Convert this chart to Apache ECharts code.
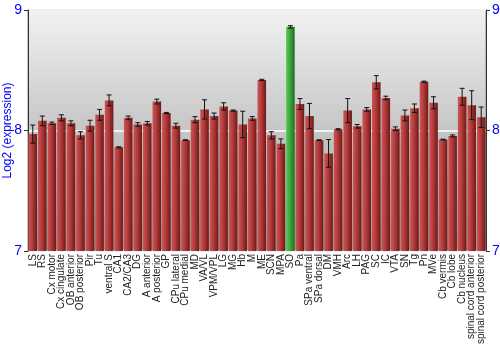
<!DOCTYPE html>
<html><head><meta charset="utf-8">
<script src="https://cdn.jsdelivr.net/npm/echarts@6/dist/echarts.min.js"></script>
<style>html,body{margin:0;padding:0;background:#fff}#c{width:500px;height:350px}</style>
</head><body><div id="c"></div>
<script>
const categories = ["LS","RS","Cx motor","Cx cingulate","OB anterior","OB posterior","Pir","Tu","ventral S","CA1","CA2/CA3","DG","A anterior","A posterior","GP","CPu lateral","CPu medial","MD","VA/VL","VPM/VPL","LG","MG","Hb","M","ME","SCN","MPA","SO","Pa","SPa ventral","SPa dorsal","DM","VMH","Arc","LH","PAG","SC","IC","VTA","SN","Tg","Pn","MVe","Cb vermis","Cb lobe","Cb nucleus","spinal cord anterior","spinal cord posterior"];
const values = [7.97,8.08,8.06,8.105,8.06,7.96,8.04,8.13,8.25,7.86,8.105,8.05,8.06,8.24,8.145,8.04,7.92,8.09,8.175,8.12,8.2,8.165,8.05,8.1,8.42,7.96,7.89,8.86,8.22,8.12,7.92,7.81,8.01,8.165,8.035,8.175,8.4,8.27,8.015,8.125,8.185,8.405,8.23,7.925,7.955,8.28,8.21,8.11];
const errors = [0.075,0.04,0.01,0.025,0.02,0.03,0.045,0.045,0.045,0.005,0.015,0.015,0.015,0.02,0.005,0.02,0.003,0.025,0.08,0.025,0.03,0.005,0.11,0.015,0.005,0.03,0.04,0.01,0.045,0.105,0.003,0.115,0.005,0.1,0.015,0.015,0.055,0.015,0.015,0.045,0.035,0.005,0.05,0.003,0.008,0.07,0.12,0.085];
const highlight = "SO";
const yTicks = [7, 8, 9];

const G = echarts.graphic.LinearGradient;
const redFill = new G(0,0,1,0,[{offset:0,color:'#cc5555'},{offset:0.45,color:'#b23a3a'},{offset:1,color:'#6e1818'}]);
const greenFill = new G(0,0,1,0,[{offset:0,color:'#5cc85c'},{offset:0.45,color:'#3aa83a'},{offset:1,color:'#1d6e1d'}]);

const barData = values.map((v,i)=>({value:v, itemStyle:{color: categories[i]===highlight ? greenFill : redFill}}));
const errData = values.map((v,i)=>[i, v-errors[i], v+errors[i]]);

const chart = echarts.init(document.getElementById('c'), null, {renderer:'canvas'});
const axisLabelStyle = {color:'#0000ff', fontSize:14, fontFamily:'Liberation Sans, Arial, sans-serif'};
chart.setOption({
  animation:false,
  grid:{left:28, right:14, top:10, bottom:99, outerBoundsMode:'none', containLabel:false,
        show:true, borderColor:'#888', borderWidth:1,
        backgroundColor:new G(0,0,0,1,[{offset:0,color:'#f2f2f2'},{offset:1,color:'#9a9a9a'}])},
  xAxis:{type:'category', data:categories,
    axisLine:{show:false}, axisTick:{show:false},
    axisLabel:{interval:0, rotate:90, fontSize:10, color:'#222', margin:3, fontFamily:'Liberation Sans, Arial, sans-serif'}},
  yAxis:[
    {type:'value', min:yTicks[0], max:yTicks[yTicks.length-1], interval:1,
     name:'Log2 (expression)', nameLocation:'middle', nameGap:14, nameRotate:90, nameMoveOverlap:false,
     nameTextStyle:{color:'#0000ff', fontSize:12, fontFamily:'Liberation Sans, Arial, sans-serif'},
     axisLine:{show:true, lineStyle:{color:'#333'}}, axisTick:{show:true, length:4, lineStyle:{color:'#333'}},
     axisLabel:Object.assign({margin:6}, axisLabelStyle),
     splitLine:{show:true, lineStyle:{color:'#ffffff', width:1.5}}},
    {type:'value', position:'right', min:yTicks[0], max:yTicks[yTicks.length-1], interval:1,
     axisLine:{show:true, lineStyle:{color:'#333'}}, axisTick:{show:true, length:4, lineStyle:{color:'#333'}},
     axisLabel:Object.assign({margin:6}, axisLabelStyle),
     splitLine:{show:false}}
  ],
  series:[
    {type:'bar', data:barData, barWidth:'90%', barGap:'-100%', z:2},
    {type:'custom', data:errData, z:3,
     renderItem:function(params, api){
       const x = api.value(0);
       const lo = api.coord([x, api.value(1)]);
       const hi = api.coord([x, api.value(2)]);
       const hw = 2.5;
       const st = {stroke:'#111', lineWidth:1};
       return {type:'group', children:[
         {type:'line', shape:{x1:lo[0],y1:lo[1],x2:hi[0],y2:hi[1]}, style:st},
         {type:'line', shape:{x1:lo[0]-hw,y1:lo[1],x2:lo[0]+hw,y2:lo[1]}, style:st},
         {type:'line', shape:{x1:hi[0]-hw,y1:hi[1],x2:hi[0]+hw,y2:hi[1]}, style:st}
       ]};
     }}
  ]
});
</script></body></html>
